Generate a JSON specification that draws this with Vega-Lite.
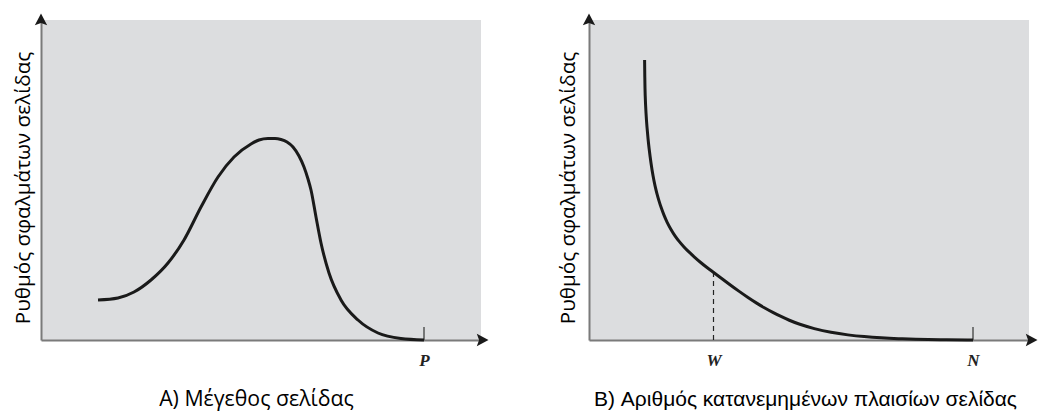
{
  "$schema": "https://vega.github.io/schema/vega-lite/v6.json",
  "background": "white",
  "padding": {"left": 12, "top": 13, "right": 5, "bottom": 5},
  "bounds": "flush",
  "spacing": 108,
  "config": {
    "view": {"fill": "#dcdddf", "stroke": null},
    "axis": {"grid": false, "ticks": false, "domainColor": "#7a7a7a", "domainWidth": 2}
  },
  "datasets": {
    "curveA": [
      {"x": 57, "y": 40}, {"x": 77, "y": 42}, {"x": 93, "y": 48}, {"x": 110, "y": 60},
      {"x": 127, "y": 77}, {"x": 143, "y": 100}, {"x": 160, "y": 133}, {"x": 177, "y": 163},
      {"x": 193, "y": 183}, {"x": 210, "y": 196}, {"x": 218, "y": 200}, {"x": 227, "y": 201.5},
      {"x": 234, "y": 201.5}, {"x": 240, "y": 200.5}, {"x": 246, "y": 198}, {"x": 252, "y": 193},
      {"x": 258, "y": 184}, {"x": 263, "y": 173}, {"x": 267, "y": 161}, {"x": 270, "y": 150},
      {"x": 275, "y": 123}, {"x": 280, "y": 97}, {"x": 288, "y": 67}, {"x": 300, "y": 40},
      {"x": 317, "y": 20}, {"x": 337, "y": 7}, {"x": 360, "y": 1.5}, {"x": 383, "y": 0}
    ],
    "curveB": [
      {"x": 55.6, "y": 280}, {"x": 55.8, "y": 262}, {"x": 56.1, "y": 245}, {"x": 57, "y": 226},
      {"x": 58, "y": 212.5}, {"x": 59, "y": 201.5}, {"x": 60, "y": 192}, {"x": 62, "y": 176.5},
      {"x": 64, "y": 164}, {"x": 66, "y": 154}, {"x": 68, "y": 146}, {"x": 70, "y": 139},
      {"x": 72, "y": 132.7}, {"x": 75, "y": 124.6}, {"x": 78, "y": 117.8}, {"x": 82, "y": 110.3},
      {"x": 86, "y": 104}, {"x": 90, "y": 98.7}, {"x": 95, "y": 92.9}, {"x": 100, "y": 87.9},
      {"x": 106, "y": 82.4}, {"x": 112, "y": 77.2}, {"x": 118, "y": 72.4}, {"x": 124, "y": 68},
      {"x": 132, "y": 62}, {"x": 140, "y": 56}, {"x": 150, "y": 48.7}, {"x": 159, "y": 42.5},
      {"x": 168, "y": 36.6}, {"x": 175, "y": 32.4}, {"x": 184, "y": 27.5}, {"x": 192, "y": 23.5},
      {"x": 200, "y": 19.8}, {"x": 210, "y": 15.8}, {"x": 225, "y": 11.3}, {"x": 242, "y": 7.5},
      {"x": 259, "y": 5}, {"x": 275, "y": 3.3}, {"x": 292, "y": 2.1}, {"x": 310, "y": 1.3},
      {"x": 325, "y": 0.8}, {"x": 350, "y": 0.3}, {"x": 384, "y": 0}
    ],
    "arrowsA": [{"x": 0, "y": 320, "dir": "up"}, {"x": 441, "y": 0, "dir": "right"}],
    "arrowsB": [{"x": 0, "y": 320, "dir": "up"}, {"x": 442, "y": 0, "dir": "right"}],
    "ticksA": [{"x": 383, "y": 0, "y2": 13, "kind": "tick"}],
    "ticksB": [{"x": 384, "y": 0, "y2": 13, "kind": "tick"}, {"x": 124.5, "y": 0, "y2": 68, "kind": "dash"}]
  },
  "hconcat": [
    {
      "width": 440,
      "height": 320,
      "encoding": {
        "x": {"field": "x", "type": "quantitative",
          "scale": {"domain": [0, 440], "nice": false, "zero": false},
          "axis": {"values": [383], "labelExpr": "'P'", "labelFont": "Liberation Serif", "labelFontWeight": "bold", "labelFontStyle": "italic", "labelFontSize": 17, "labelColor": "#222", "labelPadding": 12,
            "title": "A) Μέγεθος σελίδας", "titleFont": "Open Sans", "titleFontWeight": "normal", "titleFontSize": 21.3, "titleColor": "#000", "titleX": 215, "titleY": 65, "titleBaseline": "alphabetic", "titleAlign": "center"}},
        "y": {"field": "y", "type": "quantitative",
          "scale": {"domain": [0, 320], "nice": false, "zero": false},
          "axis": {"labels": false, "title": "Ρυθμός σφαλμάτων σελίδας", "titleFont": "Open Sans", "titleFontWeight": "normal", "titleFontSize": 20.7, "titleColor": "#000", "titleAngle": -90, "titleX": -11.5, "titleY": 167.5, "titleBaseline": "alphabetic", "titleAlign": "center"}}
      },
      "layer": [
        {"data": {"name": "ticksA"}, "mark": {"type": "rule", "color": "#555", "strokeWidth": 1.5}, "encoding": {"y2": {"field": "y2"}}},
        {"data": {"name": "curveA"}, "mark": {"type": "line", "color": "#1a1a1a", "strokeWidth": 3, "interpolate": "monotone"}},
        {"data": {"name": "arrowsA"}, "mark": {"type": "point", "filled": true, "opacity": 1, "color": "#1a1a1a", "size": 169, "strokeWidth": 0},
          "encoding": {"shape": {"field": "dir", "type": "nominal", "legend": null,
            "scale": {"domain": ["up", "right"], "range": ["M0,-1L0.95,0.8L0,0.45L-0.95,0.8Z", "M1,0L-0.8,0.95L-0.45,0L-0.8,-0.95Z"]}}}}
      ]
    },
    {
      "width": 440,
      "height": 320,
      "encoding": {
        "x": {"field": "x", "type": "quantitative",
          "scale": {"domain": [0, 440], "nice": false, "zero": false},
          "axis": {"values": [124.5, 384], "labelExpr": "datum.value < 200 ? 'W' : 'N'", "labelFont": "Liberation Serif", "labelFontWeight": "bold", "labelFontStyle": "italic", "labelFontSize": 17, "labelColor": "#222", "labelPadding": 12,
            "title": "B) Αριθμός κατανεμημένων πλαισίων σελίδας", "titleFont": "Liberation Sans", "titleFontWeight": "normal", "titleFontSize": 21, "titleColor": "#000", "titleX": 216, "titleY": 65, "titleBaseline": "alphabetic", "titleAlign": "center"}},
        "y": {"field": "y", "type": "quantitative",
          "scale": {"domain": [0, 320], "nice": false, "zero": false},
          "axis": {"labels": false, "title": "Ρυθμός σφαλμάτων σελίδας", "titleFont": "Open Sans", "titleFontWeight": "normal", "titleFontSize": 20.7, "titleColor": "#000", "titleAngle": -90, "titleX": -15, "titleY": 167.5, "titleBaseline": "alphabetic", "titleAlign": "center"}}
      },
      "layer": [
        {"data": {"name": "ticksB"}, "transform": [{"filter": "datum.kind == 'tick'"}], "mark": {"type": "rule", "color": "#555", "strokeWidth": 1.5}, "encoding": {"y2": {"field": "y2"}}},
        {"data": {"name": "ticksB"}, "transform": [{"filter": "datum.kind == 'dash'"}], "mark": {"type": "rule", "color": "#222", "strokeWidth": 1.2, "strokeDash": [5, 4]}, "encoding": {"y2": {"field": "y2"}}},
        {"data": {"name": "curveB"}, "mark": {"type": "line", "color": "#1a1a1a", "strokeWidth": 3, "interpolate": "basis"}},
        {"data": {"name": "arrowsB"}, "mark": {"type": "point", "filled": true, "opacity": 1, "color": "#1a1a1a", "size": 169, "strokeWidth": 0},
          "encoding": {"shape": {"field": "dir", "type": "nominal", "legend": null,
            "scale": {"domain": ["up", "right"], "range": ["M0,-1L0.95,0.8L0,0.45L-0.95,0.8Z", "M1,0L-0.8,0.95L-0.45,0L-0.8,-0.95Z"]}}}}
      ]
    }
  ]
}
